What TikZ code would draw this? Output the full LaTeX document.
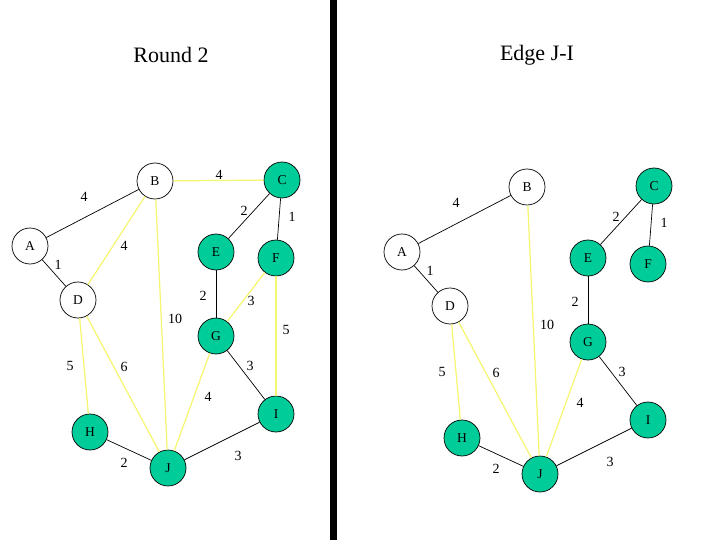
\documentclass[tikz,border=0pt]{standalone}
\usepackage{fontspec}
\setmainfont{Liberation Serif}
\definecolor{donegreen}{RGB}{0,204,153}
\definecolor{candyellow}{RGB}{245,245,110}
\begin{document}
\begin{tikzpicture}[x=1pt, y=-1pt,
      vertex/.style={draw, circle, minimum size=36pt, inner sep=0pt, font=\fontsize{13.5}{13.5}\selectfont, line width=0.7pt},
      done/.style={vertex, fill=donegreen},
      tree/.style={draw=black, line width=0.7pt},
      cand/.style={draw=candyellow, line width=1.2pt},
      wt/.style={font=\fontsize{14}{14}\selectfont, inner sep=1pt},
      title/.style={font=\fontsize{22}{22}\selectfont}]
    \useasboundingbox (0,0) rectangle (720,540);
    \fill (330,0) rectangle (337,540);
    % left: round 2
    \node[title] (t1) at (171,55) {Round 2};
    \node[vertex] (A) at (30,246) {A};
    \node[vertex] (B) at (155,181) {B};
    \node[done] (C) at (282,180) {C};
    \node[vertex] (D) at (78,300) {D};
    \node[done] (E) at (216,252) {E};
    \node[done] (F) at (276,258) {F};
    \node[done] (G) at (216,336) {G};
    \node[done] (H) at (90,432) {H};
    \node[done] (I) at (276,414) {I};
    \node[done] (J) at (168,468) {J};
    \draw[cand] (B) -- (C);
    \draw[cand] (B) -- (D);
    \draw[cand] (B) -- (J);
    \draw[cand] (F) -- (G);
    \draw[cand] (F) -- (I);
    \draw[cand] (D) -- (H);
    \draw[cand] (D) -- (J);
    \draw[cand] (G) -- (J);
    \draw[tree] (A) -- (B);
    \draw[tree] (A) -- (D);
    \draw[tree] (C) -- (E);
    \draw[tree] (C) -- (F);
    \draw[tree] (E) -- (G);
    \draw[tree] (G) -- (I);
    \draw[tree] (H) -- (J);
    \draw[tree] (J) -- (I);
    \node[wt] (wAB) at (84,197) {4};
    \node[wt] (wAD) at (58,265) {1};
    \node[wt] (wBC) at (219,175) {4};
    \node[wt] (wBD) at (124,246) {4};
    \node[wt] (wBJ) at (175,319) {10};
    \node[wt] (wCE) at (244,211) {2};
    \node[wt] (wCF) at (292,217) {1};
    \node[wt] (wEG) at (203,296) {2};
    \node[wt] (wFG) at (251,301) {3};
    \node[wt] (wFI) at (286,330) {5};
    \node[wt] (wDH) at (70,366) {5};
    \node[wt] (wDJ) at (124,367) {6};
    \node[wt] (wGJ) at (208,397) {4};
    \node[wt] (wGI) at (250,366) {3};
    \node[wt] (wHJ) at (124,463) {2};
    \node[wt] (wJI) at (238,456) {3};
    % right: edge J-I
    \begin{scope}[shift={(372,6)}]
    \node[title] (t2) at (165,49) {Edge J-I};
    \node[vertex] (rA) at (30,246) {A};
    \node[vertex] (rB) at (155,181) {B};
    \node[done] (rC) at (282,180) {C};
    \node[vertex] (rD) at (78,300) {D};
    \node[done] (rE) at (216,252) {E};
    \node[done] (rF) at (276,258) {F};
    \node[done] (rG) at (216,336) {G};
    \node[done] (rH) at (90,432) {H};
    \node[done] (rI) at (276,414) {I};
    \node[done] (rJ) at (168,468) {J};
    \draw[cand] (rB) -- (rJ);
    \draw[cand] (rD) -- (rH);
    \draw[cand] (rD) -- (rJ);
    \draw[cand] (rG) -- (rJ);
    \draw[tree] (rA) -- (rB);
    \draw[tree] (rA) -- (rD);
    \draw[tree] (rC) -- (rE);
    \draw[tree] (rC) -- (rF);
    \draw[tree] (rE) -- (rG);
    \draw[tree] (rG) -- (rI);
    \draw[tree] (rH) -- (rJ);
    \draw[tree] (rJ) -- (rI);
    \node[wt] (rwAB) at (84,197) {4};
    \node[wt] (rwAD) at (58,265) {1};
    \node[wt] (rwBJ) at (175,319) {10};
    \node[wt] (rwCE) at (244,211) {2};
    \node[wt] (rwCF) at (292,217) {1};
    \node[wt] (rwEG) at (203,296) {2};
    \node[wt] (rwDH) at (70,366) {5};
    \node[wt] (rwDJ) at (124,367) {6};
    \node[wt] (rwGJ) at (208,397) {4};
    \node[wt] (rwGI) at (250,366) {3};
    \node[wt] (rwHJ) at (124,463) {2};
    \node[wt] (rwJI) at (238,456) {3};
    \end{scope}
\end{tikzpicture}
\end{document}
